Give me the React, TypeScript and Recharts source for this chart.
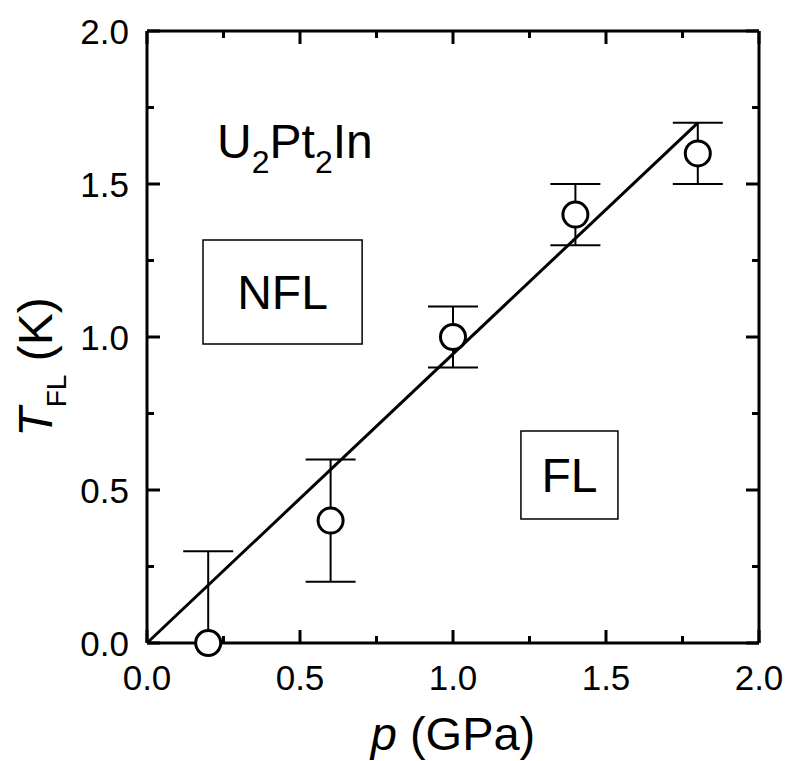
import React from 'react';
import {
  ComposedChart,
  XAxis,
  YAxis,
  Scatter,
  ErrorBar,
  ReferenceArea,
  ReferenceDot,
} from 'recharts';

// ---- data ----
const pressure = [0.2, 0.6, 1.0, 1.4, 1.8];
const tfl = [0, 0.4, 1.0, 1.4, 1.6];
const errLow = [0, 0.2, 0.1, 0.1, 0.1];
const errHigh = [0.3, 0.2, 0.1, 0.1, 0.1];
const fitP = [0, 1.8];
const fitT = [0, 1.7];
const xTicks = [0, 0.25, 0.5, 0.75, 1.0, 1.25, 1.5, 1.75, 2.0];
const yTicks = [0, 0.25, 0.5, 0.75, 1.0, 1.25, 1.5, 1.75, 2.0];
const majorTicks = [0, 0.5, 1.0, 1.5, 2.0];

const points = pressure.map((p, i) => ({ p, t: tfl[i], err: [errLow[i], errHigh[i]] }));
const fitData = fitP.map((p, i) => ({ p, t: fitT[i] }));

const FONT = '"Liberation Sans", Arial, Helvetica, sans-serif';
const W = 791;
const H = 761;
const M_TOP = 30;
const M_RIGHT = 31;
const X_AXIS_H = 118;
const Y_AXIS_W = 147;
const PLOT_W = W - M_RIGHT - 1 - Y_AXIS_W; // 612
const PLOT_H = H - X_AXIS_H - M_TOP - 1; // 612
const MAJOR = 13;
const MINOR = 7;
const isMajor = (v: number) => majorTicks.some((m) => Math.abs(m - v) < 1e-6);

const BottomTick = (props: any) => {
  const { x, y, payload } = props;
  const v = payload.value;
  const major = isMajor(v);
  const len = major ? MAJOR : MINOR;
  const top = y - PLOT_H;
  return (
    <g>
      <line x1={x} x2={x} y1={y} y2={y - len} stroke="#000" strokeWidth={3} />
      <line x1={x} x2={x} y1={top} y2={top + len} stroke="#000" strokeWidth={3} />
      {major && (
        <text x={x} y={y + 47} textAnchor="middle" fontSize={35} fontFamily={FONT} fill="#000">
          {v.toFixed(1)}
        </text>
      )}
    </g>
  );
};

const LeftTick = (props: any) => {
  const { x, y, payload } = props;
  const v = payload.value;
  const major = isMajor(v);
  const len = major ? MAJOR : MINOR;
  const right = x + PLOT_W;
  return (
    <g>
      <line x1={x} x2={x + len} y1={y} y2={y} stroke="#000" strokeWidth={3} />
      <line x1={right} x2={right - len} y1={y} y2={y} stroke="#000" strokeWidth={3} />
      {major && (
        <text x={x - 18} y={y + 13} textAnchor="end" fontSize={35} fontFamily={FONT} fill="#000">
          {v.toFixed(1)}
        </text>
      )}
    </g>
  );
};

const XLabel = (props: any) => {
  const vb = props.viewBox || {};
  return (
    <text x={vb.x + vb.width / 2} y={vb.y + 107} textAnchor="middle" fontSize={47} fontFamily={FONT} fill="#000">
      <tspan fontStyle="italic">p</tspan>
      <tspan> (GPa)</tspan>
    </text>
  );
};

const YLabel = (props: any) => {
  const vb = props.viewBox || {};
  const cx = vb.x + 52;
  const cy = vb.y + vb.height / 2 + 30;
  return (
    <text
      x={cx}
      y={cy}
      transform={`rotate(-90 ${cx} ${cy})`}
      textAnchor="middle"
      fontSize={48}
      fontFamily={FONT}
      fill="#000"
    >
      <tspan fontStyle="italic">T</tspan>
      <tspan fontSize={28} dy={14}>FL</tspan>
      <tspan dy={-14}> (K)</tspan>
    </text>
  );
};

const Circle = (props: any) => {
  const { cx, cy } = props;
  return <circle cx={cx} cy={cy} r={12.5} fill="#fff" stroke="#000" strokeWidth={3} />;
};

const NoShape = () => <g />;

const Compound = (props: any) => {
  const { cx, cy } = props;
  return (
    <text x={cx} y={cy} fontSize={48} fontFamily={FONT} fill="#000">
      <tspan>U</tspan>
      <tspan fontSize={32} dy={15}>2</tspan>
      <tspan dy={-15}>Pt</tspan>
      <tspan fontSize={32} dy={15}>2</tspan>
      <tspan dy={-15}>In</tspan>
    </text>
  );
};

export default function App() {
  return (
    <div style={{ position: 'absolute', left: 0, top: 0, width: W, height: H, background: '#fff' }}>
      <ComposedChart
        width={W}
        height={H}
        margin={{ top: M_TOP, right: M_RIGHT, bottom: 0, left: 0 }}
        style={{ fontFamily: FONT }}
      >
        <XAxis
          xAxisId="b"
          dataKey="p"
          type="number"
          domain={[0, 2]}
          ticks={xTicks}
          interval={0}
          orientation="bottom"
          height={X_AXIS_H}
          tickSize={0}
          tickMargin={0}
          tickLine={false}
          axisLine={{ stroke: '#000', strokeWidth: 3 }}
          tick={<BottomTick />}
          label={<XLabel />}
        />
        <XAxis
          xAxisId="t"
          dataKey="p"
          type="number"
          domain={[0, 2]}
          orientation="top"
          height={1}
          tickLine={false}
          tick={false}
          axisLine={{ stroke: '#000', strokeWidth: 3 }}
        />
        <YAxis
          yAxisId="l"
          dataKey="t"
          type="number"
          domain={[0, 2]}
          ticks={yTicks}
          interval={0}
          orientation="left"
          width={Y_AXIS_W}
          tickSize={0}
          tickMargin={0}
          tickLine={false}
          axisLine={{ stroke: '#000', strokeWidth: 3 }}
          tick={<LeftTick />}
          label={<YLabel />}
        />
        <YAxis
          yAxisId="r"
          dataKey="t"
          type="number"
          domain={[0, 2]}
          orientation="right"
          width={1}
          tickLine={false}
          tick={false}
          axisLine={{ stroke: '#000', strokeWidth: 3 }}
        />
        <ReferenceArea
          xAxisId="b"
          yAxisId="l"
          x1={0.183}
          x2={0.703}
          y1={0.977}
          y2={1.317}
          fill="#fff"
          fillOpacity={1}
          stroke="#000"
          strokeWidth={1.5}
          label={{ value: 'NFL', position: 'center', fontSize: 48, fill: '#000', fontFamily: FONT }}
        />
        <ReferenceArea
          xAxisId="b"
          yAxisId="l"
          x1={1.222}
          x2={1.539}
          y1={0.405}
          y2={0.693}
          fill="#fff"
          fillOpacity={1}
          stroke="#000"
          strokeWidth={1.5}
          label={{ value: 'FL', position: 'center', fontSize: 48, fill: '#000', fontFamily: FONT }}
        />
        <ReferenceDot xAxisId="b" yAxisId="l" x={0.229} y={1.585} r={0} shape={<Compound />} />
        <Scatter
          xAxisId="b"
          yAxisId="l"
          data={fitData}
          dataKey="t"
          line={{ stroke: '#000', strokeWidth: 3 }}
          shape={<NoShape />}
          isAnimationActive={false}
        />
        <Scatter
          xAxisId="b"
          yAxisId="l"
          data={points}
          dataKey="t"
          shape={<Circle />}
          isAnimationActive={false}
        >
          <ErrorBar dataKey="err" direction="y" width={25} stroke="#000" strokeWidth={2} isAnimationActive={false} />
        </Scatter>
      </ComposedChart>
    </div>
  );
}
